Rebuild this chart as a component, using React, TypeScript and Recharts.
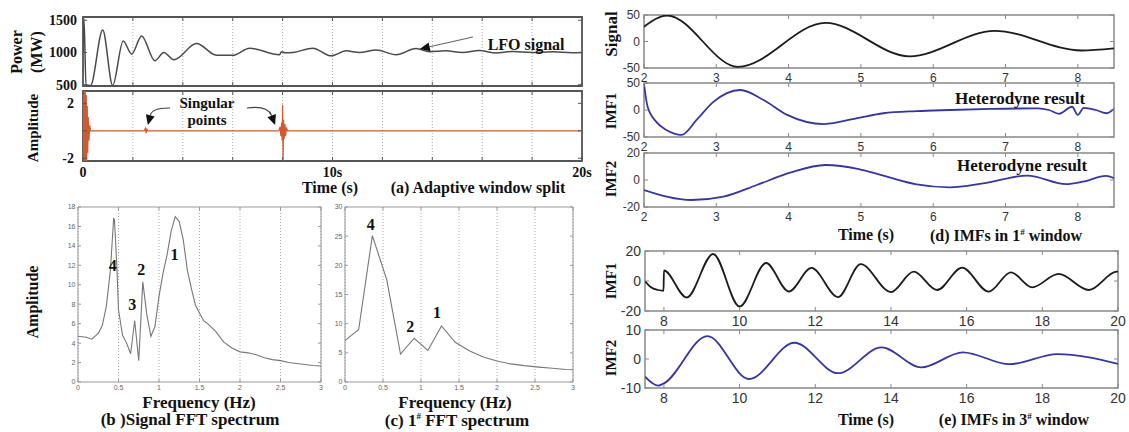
import React from "react";
import {
  LineChart,
  Line,
  XAxis,
  YAxis,
  CartesianGrid,
  ReferenceArea,
  ReferenceDot,
  ReferenceLine,
} from "recharts";

const SERIF = '"Liberation Serif", "Times New Roman", serif';
const SANS = '"Liberation Sans", Arial, sans-serif';

// (a) adaptive window split
const powerTime = [0, 0.04, 0.12, 0.3, 0.79, 1.19, 1.61, 1.95, 2.35, 2.88, 3.24, 3.64, 4.55, 5.35, 6.0, 6.68, 7.88, 7.95, 8.1, 8.41, 9.21, 9.95, 10.55, 11.08, 11.75, 12.55, 13.35, 13.88, 14.55, 15.21, 15.88, 16.55, 17.21, 18.01, 18.81, 19.61, 20];
const powerMW = [1000, 1520, 500, 488, 1348, 488, 1178, 974, 1256, 871, 1000, 887, 1138, 958, 955, 1066, 964, 1010, 995, 1000, 1066, 948, 1025, 1000, 1040, 964, 1061, 1013, 1025, 1000, 1030, 990, 1015, 1000, 1010, 995, 1000];
const ampTime = [0, 0.01, 0.03, 0.05, 0.07, 0.09, 0.11, 0.13, 0.15, 0.17, 0.19, 0.21, 0.24, 0.27, 0.3, 2.45, 2.5, 2.53, 2.56, 2.6, 7.85, 7.9, 7.93, 7.96, 7.98, 8.0, 8.02, 8.04, 8.06, 8.09, 8.12, 8.15, 8.2, 20];
const ampValue = [0, 2.9, -2.2, 2.9, -2.2, 2.9, -2.2, 2.6, -2.2, 1.8, -1.6, 1.0, -0.7, 0.4, 0, 0, 0.18, -0.18, 0.12, 0, 0, 0.3, -0.4, 0.6, -0.7, 1.9, -2.2, 0.8, -0.6, 0.5, -0.4, 0.2, 0, 0];
const timeTicksA = [0, 2, 4, 6, 8, 10, 12, 14, 16, 18, 20];

// (b) signal FFT spectrum
const fftbFreq = [0, 0.1, 0.17, 0.25, 0.3, 0.35, 0.4, 0.44, 0.45, 0.48, 0.5, 0.55, 0.6, 0.65, 0.7, 0.75, 0.8, 0.85, 0.9, 0.95, 1.0, 1.05, 1.1, 1.15, 1.2, 1.25, 1.3, 1.35, 1.4, 1.45, 1.5, 1.55, 1.6, 1.7, 1.8, 1.9, 2.0, 2.1, 2.2, 2.3, 2.4, 2.5, 2.6, 2.7, 2.8, 2.9, 3.0];
const fftbAmp = [4.7, 4.6, 4.4, 5.0, 5.8, 7.8, 11.5, 16.8, 16.7, 11.9, 7.4, 4.8, 4.0, 2.9, 6.3, 2.2, 10.3, 6.9, 4.7, 5.7, 8.8, 11.2, 13.1, 15.5, 17.0, 16.5, 14.6, 11.5, 9.6, 7.9, 7.1, 6.3, 6.0, 5.2, 4.1, 3.5, 3.1, 3.0, 2.8, 2.5, 2.3, 2.2, 2.0, 1.9, 1.8, 1.7, 1.65];

// (c) 1# window FFT spectrum
const fftcFreq = [0, 0.18, 0.36, 0.55, 0.73, 0.91, 1.09, 1.27, 1.45, 1.64, 1.82, 2.0, 2.18, 2.36, 2.55, 2.73, 2.91, 3.0];
const fftcAmp = [7.1, 9.0, 25.1, 17.5, 4.8, 7.5, 5.4, 9.6, 6.8, 5.3, 4.3, 3.6, 3.1, 2.8, 2.55, 2.35, 2.15, 2.1];
const freqTicks = [0, 0.5, 1, 1.5, 2, 2.5, 3];

// (d) IMFs in 1# window
const sigTime = [2, 2.32, 3.3, 4.51, 5.67, 6.85, 8.05, 8.5];
const sigValue = [28, 49, -48, 35, -28, 20, -17, -13];
const imf1dTime = [2, 2.05, 2.17, 2.31, 2.52, 2.73, 2.96, 3.33, 3.66, 3.98, 4.49, 4.95, 5.31, 5.77, 6.23, 6.8, 7.45, 7.6, 7.74, 7.92, 8.0, 8.08, 8.25, 8.4, 8.5];
const imf1dValue = [48, 6, -22, -37, -46, -18, 15, 37, 18, -9, -26, -15, -6, -2, 0, 2, 3, 0, -7, 6, -9, 4, 0, -6, 2];
const imf2dTime = [2, 2.66, 3.1, 3.56, 4.02, 4.51, 4.97, 5.31, 5.77, 6.23, 6.69, 7.3, 7.84, 8.07, 8.39, 8.5];
const imf2dValue = [-7.4, -14.8, -12.3, -3.7, 5.4, 11.1, 8.1, 3.2, -3.2, -5.4, -2.5, 3.3, -3, -1.2, 3, 1.3];
const timeTicksD = [2, 3, 4, 5, 6, 7, 8];

// (e) IMFs in 3# window
const imf1eTime = [7.5, 7.65, 7.85, 7.99, 8.0, 8.6, 9.3, 10.0, 10.7, 11.3, 11.9, 12.6, 13.2, 14.0, 14.6, 15.22, 15.88, 16.58, 17.17, 17.73, 18.43, 19.23, 19.97, 20];
const imf1eValue = [0, -4, -6, -6.5, 7, -11, 18, -17, 12, -7, 8.7, -10.7, 11.2, -7.4, 6.2, -6, 8.9, -7.1, 5.8, -4.2, 4.7, -6, 6.2, 6.2];
const imf2eTime = [7.5, 7.85, 8.0, 9.15, 10.25, 11.45, 12.6, 13.75, 14.8, 15.9, 17.13, 18.4, 20];
const imf2eValue = [-6.1, -9.2, -8.4, 7.9, -6.9, 5.6, -4.9, 4.0, -2.9, 2.3, -1.8, 1.7, -1.7];
const timeTicksE = [8, 10, 12, 14, 16, 18, 20];

const zip = (xs: number[], ys: number[]) => xs.map((x, i) => ({ x, y: ys[i] }));

type Font = { family: string; size: number; weight: any; color: string };

interface PanelProps {
  left: number;
  top: number;
  w: number;
  h: number;
  xs: number[];
  ys: number[];
  xDomain: [number, number];
  yDomain: [number, number];
  xTicks: number[];
  yTicks: number[];
  xFmt?: (v: number) => string;
  yFmt?: (v: number) => string;
  font: Font;
  xGap: number;
  yGap: number;
  color: string;
  lineWidth: number;
  curve: "monotone" | "linear";
  frame: string;
  frameWidth: number;
  tickLen: number;
  grid?: boolean;
  children?: React.ReactNode;
}

function Panel(p: PanelProps) {
  const L = 60, R = 16, T = 16, B = 30;
  const data = zip(p.xs, p.ys);
  const xFmt = p.xFmt || ((v: number) => String(v));
  const yFmt = p.yFmt || ((v: number) => String(v));
  const tp = {
    fontFamily: p.font.family,
    fontSize: p.font.size,
    fontWeight: p.font.weight,
    fill: p.font.color,
  };

  const xTick = (t: any) => {
    const { x, y, payload } = t;
    const label = xFmt(payload.value);
    return (
      <g>
        <line x1={x} x2={x} y1={y} y2={y - p.tickLen} stroke={p.frame} />
        <line x1={x} x2={x} y1={y - p.h} y2={y - p.h + p.tickLen} stroke={p.frame} />
        {label !== "" && (
          <text x={x} y={y + p.xGap} dy="0.8em" textAnchor="middle" {...tp}>
            {label}
          </text>
        )}
      </g>
    );
  };

  const yTick = (t: any) => {
    const { x, y, payload } = t;
    const label = yFmt(payload.value);
    return (
      <g>
        <line x1={x} x2={x + p.tickLen} y1={y} y2={y} stroke={p.frame} />
        <line x1={x + p.w} x2={x + p.w - p.tickLen} y1={y} y2={y} stroke={p.frame} />
        {label !== "" && (
          <text x={x - p.yGap} y={y} dy="0.35em" textAnchor="end" {...tp}>
            {label}
          </text>
        )}
      </g>
    );
  };

  return (
    <div style={{ position: "absolute", left: p.left - L, top: p.top - T }}>
      <LineChart
        width={L + p.w + R}
        height={T + p.h + B}
        data={data}
        margin={{ top: T, right: R, bottom: 0, left: 0 }}
      >
        {p.grid && (
          <CartesianGrid horizontal={false} stroke="#aaa" strokeDasharray="1 2" />
        )}
        <XAxis
          type="number"
          dataKey="x"
          domain={p.xDomain}
          ticks={p.xTicks}
          interval={0}
          allowDataOverflow
          height={B}
          axisLine={false}
          tickLine={false}
          tickSize={0}
          tickMargin={0}
          tick={xTick}
        />
        <YAxis
          type="number"
          domain={p.yDomain}
          ticks={p.yTicks}
          interval={0}
          allowDataOverflow
          width={L}
          axisLine={false}
          tickLine={false}
          tickSize={0}
          tickMargin={0}
          tick={yTick}
        />
        <ReferenceArea
          x1={p.xDomain[0]}
          x2={p.xDomain[1]}
          y1={p.yDomain[0]}
          y2={p.yDomain[1]}
          fill="none"
          stroke={p.frame}
          strokeWidth={p.frameWidth}
          ifOverflow="visible"
        />
        <Line
          type={p.curve}
          dataKey="y"
          stroke={p.color}
          strokeWidth={p.lineWidth}
          dot={false}
          activeDot={false}
          isAnimationActive={false}
        />
        {p.children}
      </LineChart>
    </div>
  );
}

const textShape = (s: string, size: number) => (pp: any) => (
  <text
    x={pp.cx}
    y={pp.cy}
    textAnchor="middle"
    dominantBaseline="central"
    fontFamily={SERIF}
    fontWeight="bold"
    fontSize={size}
    fill="#111"
  >
    {s}
  </text>
);

const arrowShape = (bend: number, lineColor: string) => (pp: any) => {
  const { x1, y1, x2, y2 } = pp;
  const mx = (x1 + x2) / 2;
  const my = (y1 + y2) / 2;
  const cx = mx - (y2 - y1) * bend;
  const cy = my + (x2 - x1) * bend;
  const ang = Math.atan2(y2 - cy, x2 - cx);
  const hl = 10, hw = 4.5;
  const bx = x2 - hl * Math.cos(ang);
  const by = y2 - hl * Math.sin(ang);
  const s = Math.sin(ang), c = Math.cos(ang);
  return (
    <g>
      <path d={`M${x1},${y1} Q${cx},${cy} ${bx},${by}`} fill="none" stroke={lineColor} strokeWidth={1.2} />
      <polygon points={`${x2},${y2} ${bx + hw * s},${by - hw * c} ${bx - hw * s},${by + hw * c}`} fill="#111" />
    </g>
  );
};

const Txt = ({ x, y, size = 16, rotate = false, children }: any) => (
  <div
    style={{
      position: "absolute",
      left: x,
      top: y,
      transform: `translate(-50%, -50%)${rotate ? " rotate(-90deg)" : ""}`,
      fontFamily: SERIF,
      fontWeight: "bold",
      fontSize: size,
      color: "#111",
      whiteSpace: "nowrap",
      lineHeight: 1,
    }}
  >
    {children}
  </div>
);

const fontA: Font = { family: SERIF, size: 14, weight: "bold", color: "#111" };
const fontSmall: Font = { family: SANS, size: 7, weight: "normal", color: "#666" };
const fontD: Font = { family: SANS, size: 12, weight: "normal", color: "#333" };
const fontE: Font = { family: SANS, size: 14, weight: "normal", color: "#333" };
const BLUE = "#3636a2";
const DARK = "#1c1c1c";

export default function App() {
  const aCommon = {
    left: 83,
    w: 499,
    xDomain: [0, 20] as [number, number],
    xTicks: timeTicksA,
    font: fontA,
    xGap: 5,
    frame: "#555",
    frameWidth: 1.8,
    tickLen: 4,
    grid: true,
  };
  const fftCommon = {
    top: 207,
    h: 175,
    xDomain: [0, 3] as [number, number],
    xTicks: freqTicks,
    font: fontSmall,
    xGap: 2,
    yGap: 2.5,
    color: "#777",
    lineWidth: 1.1,
    curve: "linear" as const,
    frame: "#999",
    frameWidth: 1,
    tickLen: 3,
    grid: true,
  };
  const dCommon = {
    left: 644,
    w: 470,
    h: 54,
    xDomain: [2, 8.5] as [number, number],
    xTicks: timeTicksD,
    font: fontD,
    xGap: 4,
    yGap: 4,
    lineWidth: 1.8,
    curve: "monotone" as const,
    frame: "#888",
    frameWidth: 1.5,
    tickLen: 4,
  };
  const eCommon = {
    left: 645,
    w: 473,
    xDomain: [7.5, 20] as [number, number],
    xTicks: timeTicksE,
    font: fontE,
    xGap: 4,
    yGap: 4,
    lineWidth: 1.8,
    curve: "monotone" as const,
    frame: "#888",
    frameWidth: 1.5,
    tickLen: 4,
  };

  return (
    <div
      style={{
        position: "absolute",
        left: 0,
        top: 0,
        width: 1129,
        height: 432,
        background: "#fff",
        overflow: "hidden",
      }}
    >
      {/* (a) */}
      <Panel
        {...aCommon}
        top={17}
        h={69}
        xs={powerTime}
        ys={powerMW}
        yDomain={[480, 1550]}
        yTicks={[500, 1000, 1500]}
        xFmt={() => ""}
        yGap={6}
        color="#4a4a4a"
        lineWidth={1.5}
        curve="monotone"
      >
        <ReferenceLine
          segment={[{ x: 15.63, y: 1240 }, { x: 13.5, y: 1054 }]}
          ifOverflow="visible"
          shape={arrowShape(0, "#666")}
        />
        <ReferenceDot x={17.76} y={1131} r={0} ifOverflow="visible" shape={textShape("LFO signal", 16)} />
      </Panel>
      <Panel
        {...aCommon}
        top={91}
        h={70}
        xs={ampTime}
        ys={ampValue}
        yDomain={[-2.2, 2.9]}
        yTicks={[-2, 0, 2]}
        yFmt={(v) => (v === 0 ? "" : String(v))}
        xFmt={(v) => (v === 0 ? "0" : v === 10 ? "10s" : v === 20 ? "20s" : "")}
        yGap={9}
        color="#d2592c"
        lineWidth={1.2}
        curve="linear"
      >
        <ReferenceLine
          segment={[{ x: 3.49, y: 1.66 }, { x: 2.6, y: 0.42 }]}
          ifOverflow="visible"
          shape={arrowShape(0.4, "#444")}
        />
        <ReferenceLine
          segment={[{ x: 6.57, y: 1.66 }, { x: 7.7, y: 0.42 }]}
          ifOverflow="visible"
          shape={arrowShape(-0.4, "#444")}
        />
        <ReferenceDot x={4.97} y={2.02} r={0} ifOverflow="visible" shape={textShape("Singular", 15)} />
        <ReferenceDot x={4.97} y={0.79} r={0} ifOverflow="visible" shape={textShape("points", 15)} />
      </Panel>

      {/* (b) */}
      <Panel
        {...fftCommon}
        left={78}
        w={243}
        xs={fftbFreq}
        ys={fftbAmp}
        yDomain={[0, 18]}
        yTicks={[0, 2, 4, 6, 8, 10, 12, 14, 16, 18]}
      >
        <ReferenceDot x={0.43} y={12} r={0} ifOverflow="visible" shape={textShape("4", 16)} />
        <ReferenceDot x={0.67} y={8} r={0} ifOverflow="visible" shape={textShape("3", 16)} />
        <ReferenceDot x={0.78} y={11.6} r={0} ifOverflow="visible" shape={textShape("2", 16)} />
        <ReferenceDot x={1.19} y={13.1} r={0} ifOverflow="visible" shape={textShape("1", 16)} />
      </Panel>

      {/* (c) */}
      <Panel
        {...fftCommon}
        left={345}
        w={228}
        xs={fftcFreq}
        ys={fftcAmp}
        yDomain={[0, 30]}
        yTicks={[0, 5, 10, 15, 20, 25, 30]}
      >
        <ReferenceDot x={0.34} y={27} r={0} ifOverflow="visible" shape={textShape("4", 16)} />
        <ReferenceDot x={0.86} y={9.5} r={0} ifOverflow="visible" shape={textShape("2", 16)} />
        <ReferenceDot x={1.21} y={11.9} r={0} ifOverflow="visible" shape={textShape("1", 16)} />
      </Panel>

      {/* (d) */}
      <Panel {...dCommon} top={15} h={53} xs={sigTime} ys={sigValue} yDomain={[-50, 50]} yTicks={[-50, 0, 50]} color={DARK} />
      <Panel {...dCommon} top={83} xs={imf1dTime} ys={imf1dValue} yDomain={[-50, 50]} yTicks={[-50, 0, 50]} color={BLUE}>
        <ReferenceDot x={7.2} y={22} r={0} ifOverflow="visible" shape={textShape("Heterodyne result", 17)} />
      </Panel>
      <Panel {...dCommon} top={153} xs={imf2dTime} ys={imf2dValue} yDomain={[-20, 20]} yTicks={[-20, 0, 20]} color={BLUE}>
        <ReferenceDot x={7.23} y={10.4} r={0} ifOverflow="visible" shape={textShape("Heterodyne result", 17)} />
      </Panel>

      {/* (e) */}
      <Panel {...eCommon} top={251} h={60} xs={imf1eTime} ys={imf1eValue} yDomain={[-20, 20]} yTicks={[-20, 0, 20]} color={DARK} />
      <Panel {...eCommon} top={330} h={58} xs={imf2eTime} ys={imf2eValue} yDomain={[-10, 10]} yTicks={[-10, 0, 10]} color={BLUE} />

      {/* titles */}
      <Txt x={17} y={52} rotate>Power</Txt>
      <Txt x={37} y={52} rotate>(MW)</Txt>
      <Txt x={33} y={128} size={15} rotate>Amplitude</Txt>
      <Txt x={330} y={188}>Time (s)</Txt>
      <Txt x={478} y={188}>(a) Adaptive window split</Txt>

      <Txt x={33} y={302} rotate>Amplitude</Txt>
      <Txt x={199} y={402} size={17}>Frequency (Hz)</Txt>
      <Txt x={190} y={419} size={17}>(b )Signal FFT spectrum</Txt>
      <Txt x={455} y={402} size={17}>Frequency (Hz)</Txt>
      <Txt x={457} y={420} size={17}>
        (c) 1<sup style={{ fontSize: 9 }}>#</sup> FFT spectrum
      </Txt>

      <Txt x={611} y={34} size={17} rotate>Signal</Txt>
      <Txt x={611} y={111} size={15} rotate>IMF1</Txt>
      <Txt x={611} y={179} size={15} rotate>IMF2</Txt>
      <Txt x={866} y={235}>Time (s)</Txt>
      <Txt x={1006} y={236}>
        (d) IMFs in 1<sup style={{ fontSize: 9 }}>#</sup> window
      </Txt>

      <Txt x={611} y={281} size={15} rotate>IMF1</Txt>
      <Txt x={611} y={358} size={15} rotate>IMF2</Txt>
      <Txt x={866} y={420}>Time (s)</Txt>
      <Txt x={1014} y={420}>
        (e) IMFs in 3<sup style={{ fontSize: 9 }}>#</sup> window
      </Txt>
    </div>
  );
}
